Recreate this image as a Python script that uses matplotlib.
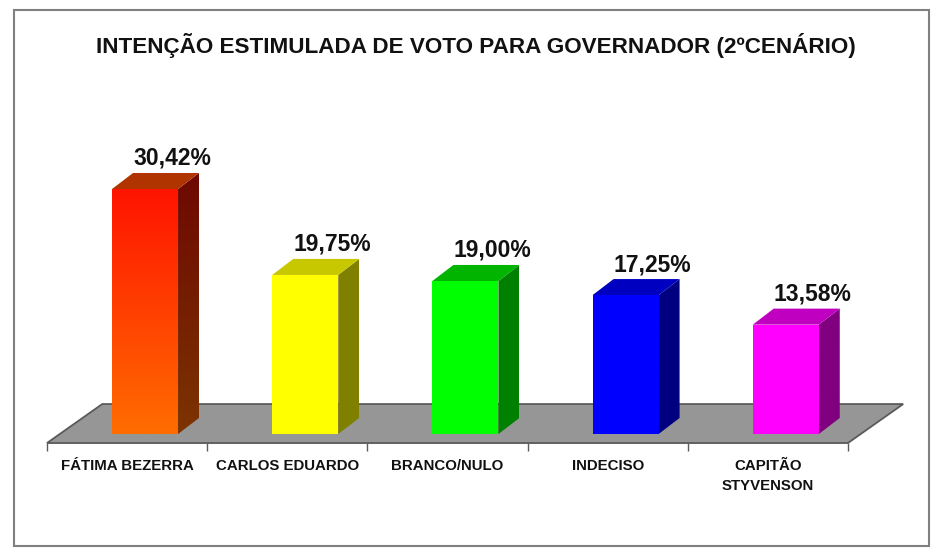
import matplotlib
matplotlib.use('Agg')
import matplotlib.pyplot as plt
import matplotlib.colors as mcolors
from matplotlib.patches import Polygon, Rectangle
import numpy as np

plt.rcParams['font.family'] = ['Liberation Sans', 'DejaVu Sans']

title = 'INTENÇÃO ESTIMULADA DE VOTO PARA GOVERNADOR (2ºCENÁRIO)'
candidates = ['FÁTIMA BEZERRA', 'CARLOS EDUARDO', 'BRANCO/NULO', 'INDECISO', 'CAPITÃO\nSTYVENSON']
votes = [30.42, 19.75, 19.00, 17.25, 13.58]
vote_labels = ['30,42%', '19,75%', '19,00%', '17,25%', '13,58%']

# (top, bottom) colours of each face
front_colors = [('#ff1400', '#ff6c00'), ('#ffff00', '#ffff00'), ('#00ff00', '#00ff00'),
                ('#0000ff', '#0000ff'), ('#ff00ff', '#ff00ff')]
side_colors = [('#6e0800', '#7c3400'), ('#808000', '#808000'), ('#008000', '#008000'),
               ('#000080', '#000080'), ('#800080', '#800080')]
top_colors = ['#b03400', '#c8c800', '#00b400', '#0000c0', '#c000c0']

# 3d look
bar_x0 = 0.406
bar_w = 0.412
depth_x = 0.131
depth_y = 1.99
floor_front = -1.12
floor_back = 3.72
floor_dx = 0.345
line_step = 2.48


def gradient(ax, poly, c_top, c_bottom, z):
    poly = np.asarray(poly)
    t = np.linspace(0, 1, 64)[:, None]
    img = (np.array(mcolors.to_rgb(c_top)) * (1 - t) + np.array(mcolors.to_rgb(c_bottom)) * t)[:, None, :]
    im = ax.imshow(img, extent=(poly[:, 0].min(), poly[:, 0].max(), poly[:, 1].min(), poly[:, 1].max()),
                   origin='upper', aspect='auto', zorder=z, interpolation='bilinear')
    clip = Polygon(poly, closed=True, facecolor='none', edgecolor='none', zorder=z)
    ax.add_patch(clip)
    im.set_clip_path(clip)


fig = plt.figure(figsize=(9.37, 5.59), dpi=100)
ax = fig.add_axes([0, 0, 1, 1])
ax.axis('off')

# floor
floor = Polygon([(0, floor_front), (len(votes), floor_front),
                 (len(votes) + floor_dx, floor_back), (floor_dx, floor_back)],
                closed=True, facecolor='#969696', edgecolor='#5a5a5a', lw=1.3, zorder=1)
ax.add_patch(floor)
ax.vlines(np.arange(len(votes) + 1), floor_front - 1.0, floor_front, color='#5a5a5a', lw=1, zorder=1)

for i, v in enumerate(votes):
    x0 = i + bar_x0
    x1 = x0 + bar_w
    front = [(x0, 0), (x1, 0), (x1, v), (x0, v)]
    side = [(x1, 0), (x1 + depth_x, depth_y), (x1 + depth_x, v + depth_y), (x1, v)]
    top = [(x0, v), (x1, v), (x1 + depth_x, v + depth_y), (x0 + depth_x, v + depth_y)]
    gradient(ax, side, side_colors[i][0], side_colors[i][1], 3)
    ax.add_patch(Polygon(top, closed=True, facecolor=top_colors[i], edgecolor='none', zorder=3))
    gradient(ax, front, front_colors[i][0], front_colors[i][1], 4)

    ax.text(i + 0.78, v + depth_y + 1.0, vote_labels[i], ha='center', va='baseline',
            fontsize=16.5, fontweight='bold', color='#111111', zorder=5)
    for k, line in enumerate(candidates[i].split('\n')):
        ax.text(i + 0.5, -4.47 - k * line_step, line, ha='center', va='baseline', fontsize=10.8,
                fontweight='bold', color='#111111')

ax.set_xlim(-0.2934, 5.556)
ax.set_ylim(-15.52, 53.89)

fig.text(476 / 937, 1 - 53 / 559, title, ha='center', va='baseline', fontsize=16.2,
         fontweight='bold', color='#111111')
fig.patches.append(Rectangle((14 / 937, 1 - 546 / 559), 915 / 937, 536 / 559, transform=fig.transFigure,
                             fill=False, edgecolor='#808080', lw=1.5))

fig.savefig('out.png', dpi=100)
